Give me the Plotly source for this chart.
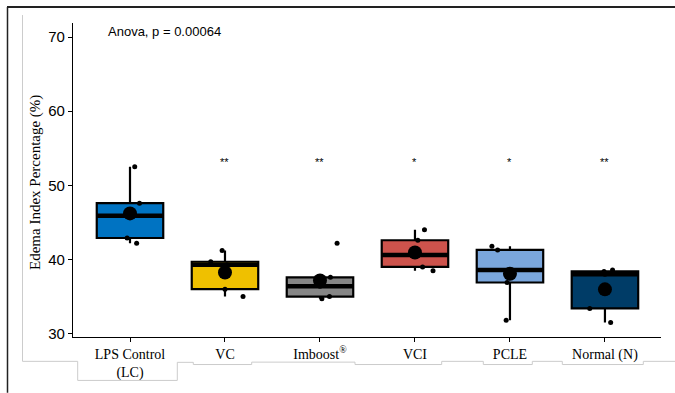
import numpy as np
import plotly.graph_objects as go

# ---- data -------------------------------------------------------------
groups = ["LPS Control<br>(LC)", "VC", "Imboost<sup>®</sup>", "VCI", "PCLE", "Normal (N)"]
lc = [52.5, 47.6, 45.9, 42.9, 42.2]
vc = [41.2, 39.7, 39.3, 36.0, 35.0]
imboost = [42.2, 37.6, 36.4, 35.0, 34.7]
vci = [44.0, 42.6, 40.6, 39.0, 38.5]
pcle = [41.8, 41.3, 38.6, 36.9, 31.8]
normal = [38.6, 38.4, 38.0, 33.4, 31.5]
signif = ["", "**", "**", "*", "*", "**"]
anova_label = "Anova, p = 0.00064"
y_ticks = [30, 40, 50, 60, 70]

series = [lc, vc, imboost, vci, pcle, normal]

# ---- style ------------------------------------------------------------
colors = ["#0073C2", "#EFC000", "#868686", "#CD534C", "#7AA6DC", "#003C67"]
# horizontal jitter of the individual points (category units)
jitter = [
    [0.05, 0.10, 0.00, -0.03, 0.07],
    [-0.03, -0.15, 0.02, 0.00, 0.19],
    [0.18, 0.11, 0.00, 0.10, 0.02],
    [0.10, 0.03, 0.00, 0.08, 0.19],
    [-0.19, -0.13, 0.00, -0.03, -0.04],
    [0.08, -0.01, 0.00, -0.16, 0.06],
]
BOX_W = 0.7
STAR_Y = 53.1

W, H = 675, 393
ML, MR, MT, MB = 73, 14, 23, 54
PW, PH = W - ML - MR, H - MT - MB


def px(x):
    return (x - ML) / PW


def py(y):
    return (H - MB - y) / PH


fig = go.Figure()

for i, vals in enumerate(series):
    fig.add_trace(go.Box(
        y=vals, x0=i, width=BOX_W,
        fillcolor=colors[i],
        line=dict(color="black", width=2.2),
        whiskerwidth=0,
        boxpoints="outliers",
        marker=dict(size=0.1, color="rgba(0,0,0,0)"),
        quartilemethod="inclusive",
        showlegend=False, hoverinfo="skip",
    ))
    med = float(np.median(vals))
    fig.add_trace(go.Scatter(
        x=[i - BOX_W / 2, i + BOX_W / 2], y=[med, med], mode="lines",
        line=dict(color="black", width=4.5), showlegend=False, hoverinfo="skip",
    ))

for i, vals in enumerate(series):
    fig.add_trace(go.Scatter(
        x=[i + d for d in jitter[i]], y=vals, mode="markers",
        marker=dict(color="black", size=5), showlegend=False,
    ))
    fig.add_trace(go.Scatter(
        x=[i], y=[float(np.mean(vals))], mode="markers",
        marker=dict(color="black", size=14), showlegend=False,
    ))

# significance marks
for i, s in enumerate(signif):
    if s:
        fig.add_annotation(x=i, y=STAR_Y, text=s, showarrow=False,
                           font=dict(family="Liberation Sans", size=11, color="black"),
                           xanchor="center", yanchor="middle")

fig.add_annotation(x=px(106), y=py(32), xref="paper", yref="paper",
                   text=anova_label, showarrow=False, xanchor="left", yanchor="middle",
                   font=dict(family="Liberation Sans", size=13, color="black"))

fig.add_annotation(x=px(36), y=py(184), xref="paper", yref="paper",
                   text="Edema Index Percentage (%)", showarrow=False, textangle=-90,
                   xanchor="center", yanchor="middle",
                   font=dict(family="Liberation Serif", size=15, color="black"))

# page frame lines
shapes = [
    dict(type="line", xref="paper", yref="paper", x0=px(7), x1=px(W + 2), y0=py(7), y1=py(7),
         line=dict(color="#222222", width=2)),
    dict(type="line", xref="paper", yref="paper", x0=px(7.5), x1=px(7.5), y0=py(7), y1=py(H + 2),
         line=dict(color="#222222", width=1.5)),
]
gray_pts = [
    (22.5, 15), (22.5, 363.5), (77.7, 363.5), (77.7, 382.7), (177.3, 382.7), (177.3, 364.5),
    (193.3, 364.5), (193.3, 366.7), (251.7, 366.7), (251.7, 364.3), (355, 364.3), (355, 366.7),
    (441.7, 366.7), (441.7, 363.5), (483.3, 363.5), (483.3, 366.7), (532.3, 366.7),
    (532.3, 363.5), (562.3, 363.5), (562.3, 366.7), (643.3, 366.7), (643.3, 363.5), (W + 2, 363.5),
]
path = "M " + " L ".join(f"{px(x):.5f},{py(y):.5f}" for x, y in gray_pts)
shapes.append(dict(type="path", xref="paper", yref="paper", path=path,
                   line=dict(color="#cccccc", width=1)))

fig.update_layout(
    width=W, height=H,
    margin=dict(l=ML, r=MR, t=MT, b=MB, pad=0),
    paper_bgcolor="white", plot_bgcolor="white",
    boxmode="overlay",
    shapes=shapes,
    xaxis=dict(
        range=[-0.6, 5.59], tickvals=list(range(len(groups))), ticktext=groups,
        showline=True, linecolor="black", linewidth=1.2,
        ticks="outside", ticklen=4, tickcolor="black", tickwidth=1.2,
        showgrid=False, zeroline=False,
        tickfont=dict(family="Liberation Serif", size=14, color="black"),
    ),
    yaxis=dict(
        range=[29.55, 71.9], tickvals=y_ticks,
        showline=True, linecolor="black", linewidth=1.2,
        ticks="outside", ticklen=4, tickcolor="black", tickwidth=1.2,
        showgrid=False, zeroline=False,
        tickfont=dict(family="Liberation Sans", size=15, color="black"),
    ),
)

fig.write_html("out.html")
